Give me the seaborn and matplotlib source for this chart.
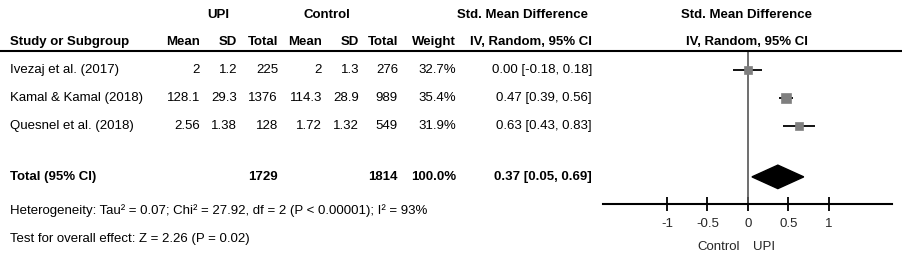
import numpy as np
import pandas as pd
import seaborn as sns
import matplotlib.pyplot as plt
from matplotlib import font_manager

# Data
studies = ["Ivezaj et al. (2017)", "Kamal & Kamal (2018)", "Quesnel et al. (2018)"]
upi_mean = ["2", "128.1", "2.56"]
upi_sd = ["1.2", "29.3", "1.38"]
upi_total = [225, 1376, 128]
ctl_mean = ["2", "114.3", "1.72"]
ctl_sd = ["1.3", "28.9", "1.32"]
ctl_total = [276, 989, 549]
weight = [32.7, 35.4, 31.9]
smd = [0.00, 0.47, 0.63]
ci_lo = [-0.18, 0.39, 0.43]
ci_hi = [0.18, 0.56, 0.83]

total_upi = 1729
total_ctl = 1814
total_weight = 100.0
total_smd = 0.37
total_lo = 0.05
total_hi = 0.69

heterogeneity = "Heterogeneity: Tau\u00b2 = 0.07; Chi\u00b2 = 27.92, df = 2 (P < 0.00001); I\u00b2 = 93%"
overall = "Test for overall effect: Z = 2.26 (P = 0.02)"
x_ticks = [-1, -0.5, 0, 0.5, 1]

W, H = 903, 272

sns.set_theme(style="white")
names = {f.name for f in font_manager.fontManager.ttflist}
fam = [f for f in ["Liberation Sans Narrow", "Liberation Sans", "DejaVu Sans"] if f in names]
plt.rcParams["font.family"] = fam
FS = 9.5

fig = plt.figure(figsize=(W / 100, H / 100), dpi=100)
fig.patch.set_facecolor("white")


def put(x, y, s, ha="left", bold=False):
    fig.text(x / W, 1 - y / H, s, ha=ha, va="center", fontsize=FS,
             fontweight="bold" if bold else "normal", color="black")


# header
put(218, 15, "UPI", "center", True)
put(327, 15, "Control", "center", True)
put(523, 15, "Std. Mean Difference", "center", True)
put(747, 15, "Std. Mean Difference", "center", True)
put(10, 42, "Study or Subgroup", bold=True)
for xr, lab in [(200, "Mean"), (237, "SD"), (278, "Total"), (322, "Mean"),
                (359, "SD"), (398, "Total"), (456, "Weight"), (592, "IV, Random, 95% CI")]:
    put(xr, 42, lab, "right", True)
put(747, 42, "IV, Random, 95% CI", "center", True)
fig.add_artist(plt.Line2D([0, 1], [1 - 51 / H, 1 - 51 / H], color="black", lw=1.5,
                          transform=fig.transFigure))

# study rows
row_px = [70, 98, 126]
for i, yp in enumerate(row_px):
    put(10, yp, studies[i])
    put(200, yp, upi_mean[i], "right")
    put(237, yp, upi_sd[i], "right")
    put(278, yp, str(upi_total[i]), "right")
    put(322, yp, ctl_mean[i], "right")
    put(359, yp, ctl_sd[i], "right")
    put(398, yp, str(ctl_total[i]), "right")
    put(456, yp, f"{weight[i]:.1f}%", "right")
    put(592, yp, f"{smd[i]:.2f} [{ci_lo[i]:.2f}, {ci_hi[i]:.2f}]", "right")

put(10, 177, "Total (95% CI)", bold=True)
put(278, 177, str(total_upi), "right", True)
put(398, 177, str(total_ctl), "right", True)
put(456, 177, f"{total_weight:.1f}%", "right", True)
put(592, 177, f"{total_smd:.2f} [{total_lo:.2f}, {total_hi:.2f}]", "right", True)
put(10, 211, heterogeneity)
put(10, 239, overall)

# forest panel
top, bot = 51, 204
ax = fig.add_axes([603 / W, 1 - bot / H, (892 - 603) / W, (bot - top) / H])
ax.set_facecolor("none")
row_y = [0, 1, 2]
total_y = 3.82
ax.set_xlim(-1.79, 1.78)
ax.set_ylim(4.79, -0.68)

ax.axvline(0, color="#555555", lw=1.2, zorder=1)
ax.hlines(row_y, ci_lo, ci_hi, color="black", lw=1.3, zorder=2)
df = pd.DataFrame({"smd": smd, "y": row_y, "weight": weight})
sns.scatterplot(data=df, x="smd", y="y", size="weight", sizes=(34, 52),
                marker="s", color="#7f7f7f", edgecolor="#7f7f7f", legend=False,
                ax=ax, zorder=3)
ax.fill([total_lo, total_smd, total_hi, total_smd],
        [total_y, total_y - 0.42, total_y, total_y + 0.42], color="black", zorder=3)

for s in ["top", "left", "right"]:
    ax.spines[s].set_visible(False)
ax.spines["bottom"].set_color("black")
ax.spines["bottom"].set_linewidth(1.5)
ax.set_yticks([])
ax.set_xticks(x_ticks)
ax.set_xticklabels(["-1", "-0.5", "0", "0.5", "1"])
ax.tick_params(axis="x", direction="inout", length=10, width=1.3, color="black",
               labelsize=FS, pad=5, bottom=True)
ax.set_xlabel("")
ax.set_ylabel("")
fig.text(740 / W, 1 - 247 / H, "Control", ha="right", va="center", fontsize=FS)
fig.text(753 / W, 1 - 247 / H, "UPI", ha="left", va="center", fontsize=FS)

fig.savefig("out.png", dpi=100, facecolor="white")
